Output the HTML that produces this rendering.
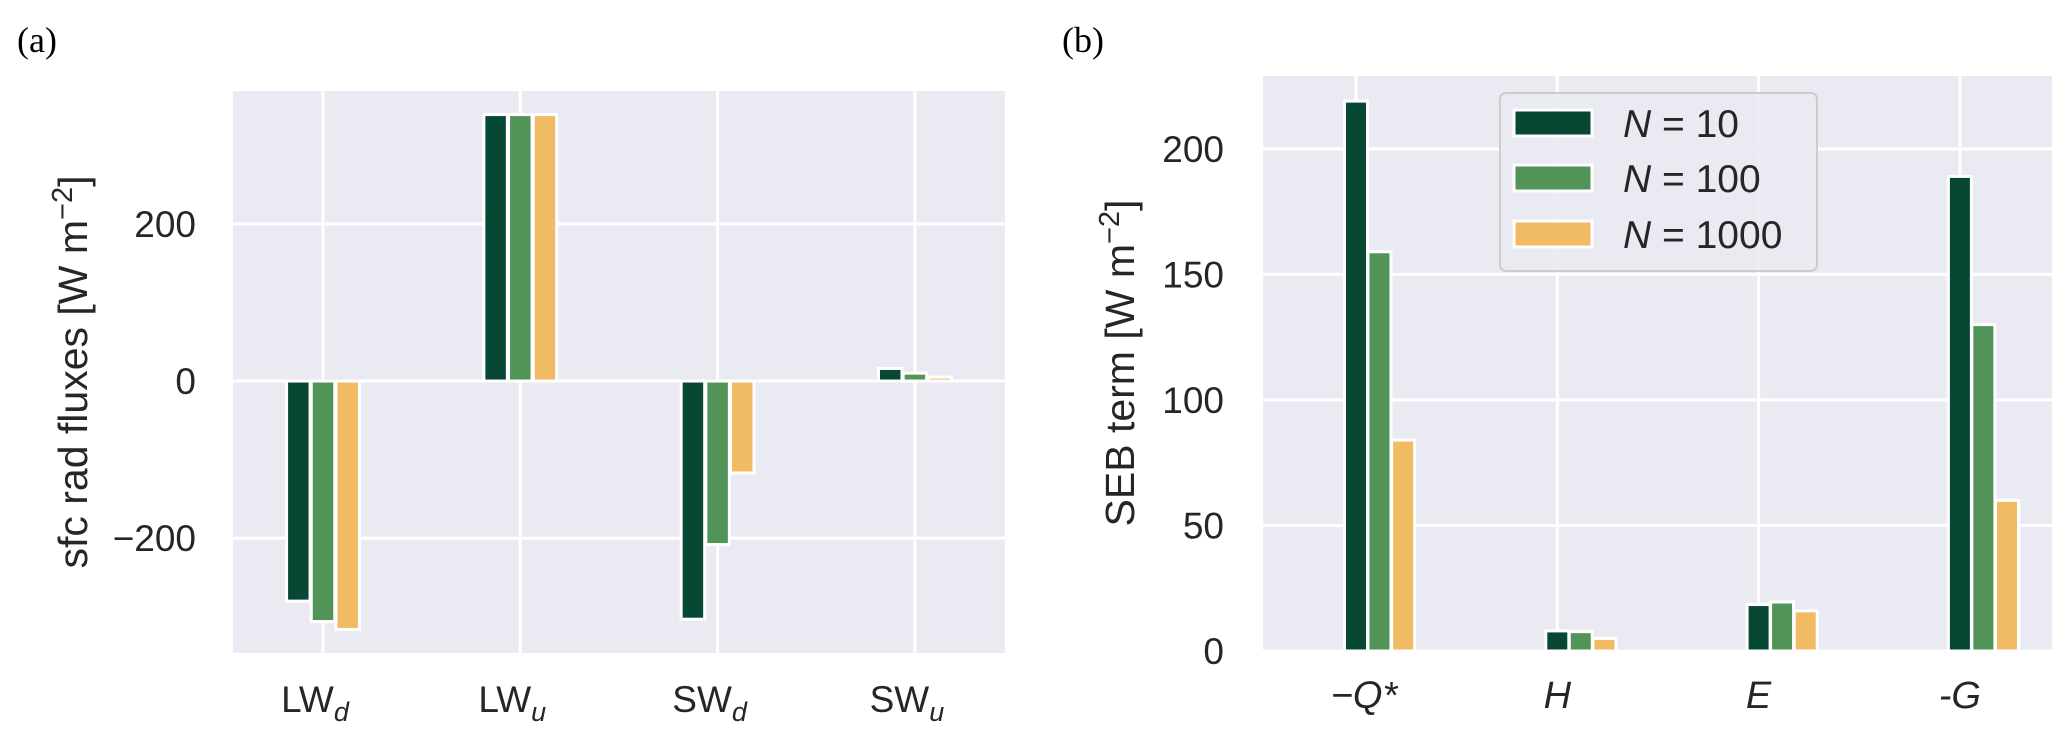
<!DOCTYPE html>
<html><head><meta charset="utf-8"><style>
html,body{margin:0;padding:0;background:#fff;}
svg{display:block;font-family:"Liberation Sans",sans-serif;}
</style></head><body>
<svg id="fig" width="2067" height="738" viewBox="0 0 2067 738">
<text x="37" y="52" font-family="Liberation Serif,serif" font-size="36" text-anchor="middle">(a)</text>
<text x="1083" y="52" font-family="Liberation Serif,serif" font-size="36" text-anchor="middle">(b)</text>
<g id="pa"></g>
<g id="pb"></g>
</svg>
<script>
const colors = ["#074834","#529458","#f0bb63"];
const seriesNames = ["N = 10","N = 100","N = 1000"];
// panel a
const catsA = ["LW","LW","SW","SW"];
const subsA = ["d","u","d","u"];
const a_n10 = [-280, 339, -303, 16];
const a_n100 = [-306, 339, -208, 10];
const a_n1000 = [-316, 339, -117, 5];
const ticksA = [-200, 0, 200];
const tickLabelsA = ["\u2212200","0","200"];
// panel b
const catsB = ["\u2212Q*","H","E","-G"];
const b_n10 = [219, 8, 18.5, 189];
const b_n100 = [159, 7.7, 19.5, 130];
const b_n1000 = [84, 5, 16, 60];
const ticksB = [0, 50, 100, 150, 200];
const tickLabelsB = ["0","50","100","150","200"];

const NS="http://www.w3.org/2000/svg";
function mk(tag, attrs, parent){const e=document.createElementNS(NS,tag);for(const k in attrs)e.setAttribute(k,attrs[k]);parent.appendChild(e);return e;}

function panel(g, cfg){
  const {x0,x1,y0,y1,vmin,vmax,cats,series,ticks,tickLabels,gx0,gstep,offsets,tickRight,bw}=cfg;
  const ys=v=>y1-(v-vmin)/(vmax-vmin)*(y1-y0);
  const xs=i=>gx0+i*gstep;
  const bg=mk('rect',{x:x0,y:y0,width:x1-x0,height:y1-y0,fill:'#eaeaf2'},g);
  
  
  ticks.forEach((t,i)=>{
    const l=mk('line',{x1:x0,x2:x1,y1:ys(t),y2:ys(t),stroke:'#fff','stroke-width':3},g);
    
    
    const tx=mk('text',{x:tickRight,y:ys(t)+13,'font-size':37,'text-anchor':'end',fill:'#262626'},g);
    tx.textContent=tickLabels[i];
    
    
  });
  cats.forEach((c,i)=>{
    const l=mk('line',{x1:xs(i),x2:xs(i),y1:y0,y2:y1,stroke:'#fff','stroke-width':3},g);
    
    
  });
  cats.forEach((c,i)=>{
    series.forEach((s,k)=>{
      const v=s[i];const cx=xs(i)+offsets[k]*bw;
      const ya=ys(Math.max(v,0)), yb=ys(Math.min(v,0));
      const r=mk('rect',{x:cx-bw/2,y:ya,width:bw,height:Math.max(yb-ya,0.5),fill:colors[k],stroke:'#fff','stroke-width':3},g);
      
      
    });
  });
  return {xs,ys};
}

const pa=document.getElementById('pa');
const A=panel(pa,{x0:233,x1:1005,y0:91,y1:653,vmin:-346,vmax:369,cats:catsA,series:[a_n10,a_n100,a_n1000],ticks:ticksA,tickLabels:tickLabelsA,gx0:323,gstep:197.3,offsets:[-1.05,0,1.05],tickRight:196,bw:23.5});
catsA.forEach((c,i)=>{
  const t=mk('text',{x:A.xs(i)-8,y:712,'font-size':37,'text-anchor':'middle',fill:'#262626'},pa);
  t.innerHTML=c+'<tspan font-size="27" font-style="italic" dy="9">'+subsA[i]+'</tspan>';
  
  
});
const yla=mk('text',{x:0,y:0,'font-size':41,'text-anchor':'middle',fill:'#262626',transform:'translate(87,372) rotate(-90)'},pa);
yla.innerHTML='sfc rad fluxes  [W m<tspan font-size="29" dy="-15">\u22122</tspan><tspan dy="15">]</tspan>';



const pb=document.getElementById('pb');
const B=panel(pb,{x0:1263,x1:2052,y0:76,y1:651,vmin:0,vmax:229,cats:catsB,series:[b_n10,b_n100,b_n1000],ticks:ticksB,tickLabels:tickLabelsB,gx0:1356,gstep:201.3,offsets:[0,1.02,2.05],tickRight:1224,bw:23});
catsB.forEach((c,i)=>{
  const t=mk('text',{x:B.xs(i)+(i==0?8:0),y:708,'font-size':38,'font-style':'italic','text-anchor':'middle',fill:'#262626'},pb);
  t.textContent=c;
  
  
});
const ylb=mk('text',{x:0,y:0,'font-size':41,'text-anchor':'middle',fill:'#262626',transform:'translate(1134,363) rotate(-90)'},pb);
ylb.innerHTML='SEB term  [W m<tspan font-size="29" dy="-15">\u22122</tspan><tspan dy="15">]</tspan>';



// legend
const lg=mk('g',{},pb);


mk('rect',{x:1500,y:93,width:317,height:178,rx:6,fill:'#eaeaf2','fill-opacity':0.85,stroke:'#cccccc','stroke-width':2},lg);
[123,178,234].forEach((yy,k)=>{
  const p=mk('rect',{x:1514,y:yy-13,width:78,height:26,fill:colors[k],stroke:'#fff','stroke-width':3},lg);
  
  
  const t=mk('text',{x:1623,y:yy+14,'font-size':39,fill:'#262626'},lg);
  t.innerHTML='<tspan font-style="italic">N</tspan> = '+seriesNames[k].split('= ')[1];
  
  
});
</script>
</body></html>
